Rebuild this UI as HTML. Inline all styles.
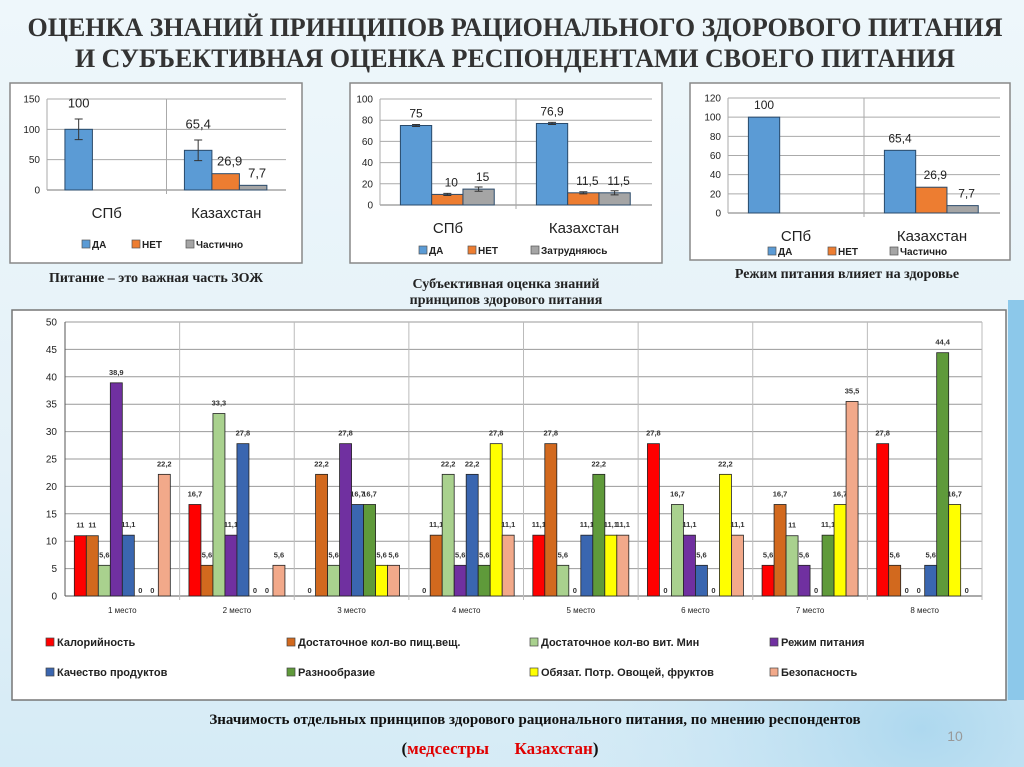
<!DOCTYPE html>
<html><head><meta charset="utf-8">
<style>
html,body{margin:0;padding:0;width:1024px;height:767px;overflow:hidden;}
body{background:linear-gradient(180deg,#eef7fb 0%,#e4f1f8 60%,#d5ebf6 100%);font-family:"Liberation Sans",sans-serif;}
svg{display:block}
</style></head>
<body>
<svg id="s" width="1024" height="767" viewBox="0 0 1024 767">
<defs>
<radialGradient id="wave" cx="0.9" cy="0.95" r="0.5">
<stop offset="0" stop-color="#a9d6ee" stop-opacity="0.9"/><stop offset="1" stop-color="#e4f1f8" stop-opacity="0"/>
</radialGradient>
</defs>
<rect x="0" y="0" width="1024" height="767" fill="url(#wave)"/>
<rect x="1008" y="300" width="16" height="400" fill="#8cc8ea"/>
<text x="515" y="36" text-anchor="middle" font-family="Liberation Serif,serif" font-weight="bold" font-size="26" fill="#333" textLength="975" lengthAdjust="spacingAndGlyphs">ОЦЕНКА ЗНАНИЙ ПРИНЦИПОВ  РАЦИОНАЛЬНОГО ЗДОРОВОГО ПИТАНИЯ</text>
<text x="515" y="67" text-anchor="middle" font-family="Liberation Serif,serif" font-weight="bold" font-size="26" fill="#333" textLength="880" lengthAdjust="spacingAndGlyphs">И СУБЪЕКТИВНАЯ ОЦЕНКА РЕСПОНДЕНТАМИ СВОЕГО  ПИТАНИЯ</text>
<g id="c1"></g>
<g id="c2"></g>
<g id="c3"></g>
<text x="156" y="282" text-anchor="middle" font-family="Liberation Serif,serif" font-weight="bold" font-size="14" fill="#222">Питание – это важная часть ЗОЖ</text>
<text x="506" y="288" text-anchor="middle" font-family="Liberation Serif,serif" font-weight="bold" font-size="14" fill="#222">Субъективная оценка знаний</text>
<text x="506" y="304" text-anchor="middle" font-family="Liberation Serif,serif" font-weight="bold" font-size="14" fill="#222">принципов здорового питания</text>
<text x="847" y="278" text-anchor="middle" font-family="Liberation Serif,serif" font-weight="bold" font-size="14" fill="#222">Режим питания влияет на здоровье</text>
<g id="main"></g>
<text x="535" y="724" text-anchor="middle" font-family="Liberation Serif,serif" font-weight="bold" font-size="15" fill="#111">Значимость отдельных принципов здорового рационального питания, по мнению респондентов</text>
<text x="500" y="754" text-anchor="middle" font-family="Liberation Serif,serif" font-weight="bold" font-size="17" fill="#e00000"><tspan fill="#111">(</tspan>медсестры&#160;&#160;&#160;&#160;&#160;&#160;Казахстан<tspan fill="#111">)</tspan></text>
<text x="955" y="741" text-anchor="middle" font-size="14" fill="#999">10</text>
</svg>
<script>
// ---- small charts data
const smallCats = ["СПб","Казахстан"];
const c1Da = [100, 65.4];
const c1Net = [null, 26.9];
const c1Part = [null, 7.7];
const c2Da = [75, 76.9];
const c2Net = [10, 11.5];
const c2Hard = [15, 11.5];
const c3Da = [100, 65.4];
const c3Net = [null, 26.9];
const c3Part = [null, 7.7];
const c1Ticks = [0, 50, 100, 150];
const c2Ticks = [0, 20, 40, 60, 80, 100];
const c3Ticks = [0, 20, 40, 60, 80, 100, 120];

// ---- main chart data
const mainCats = ["1 место","2 место","3 место","4 место","5 место","6 место","7 место","8 место"];
const mainTicks = [0,5,10,15,20,25,30,35,40,45,50];
const seriesNames = ["Калорийность","Достаточное кол-во пищ.вещ.","Достаточное кол-во вит. Мин","Режим питания","Качество продуктов","Разнообразие","Обязат. Потр. Овощей, фруктов","Безопасность"];
const sCalor = [11, 16.7, 0, 0, 11.1, 27.8, 5.6, 27.8];
const sNutr = [11, 5.6, 22.2, 11.1, 27.8, 0, 16.7, 5.6];
const sVit = [5.6, 33.3, 5.6, 22.2, 5.6, 16.7, 11, 0];
const sRegime = [38.9, 11.1, 27.8, 5.6, 0, 11.1, 5.6, 0];
const sQuality = [11.1, 27.8, 16.7, 22.2, 11.1, 5.6, 0, 5.6];
const sVariety = [0, 0, 16.7, 5.6, 22.2, 0, 11.1, 44.4];
const sVeg = [0, 0, 5.6, 27.8, 11.1, 22.2, 16.7, 16.7];
const sSafety = [22.2, 5.6, 5.6, 11.1, 11.1, 11.1, 35.5, 0];

const NS="http://www.w3.org/2000/svg";
function mk(parent, tag, attrs, text){
  const e=document.createElementNS(NS,tag);
  for(const k in attrs) e.setAttribute(k,attrs[k]);
  if(text!==undefined) e.textContent=text;
  parent.appendChild(e); return e;
}
function fmt(v){return String(v).replace('.',',');}

function smallChart(gid, box, plot, ticks, series, colors, names, labelSize, err, catY, legY, legXs){
  const g=document.getElementById(gid);
  const bg=mk(g,'rect',{x:box[0],y:box[1],width:box[2],height:box[3],fill:'#fff',stroke:'#888','stroke-width':1.5});
  
  
  const [px0,py0,px1,py1]=plot;
  const max=ticks[ticks.length-1];
  const y=v=>py1-(v/max)*(py1-py0);
  const catW=(px1-px0)/smallCats.length;
  ticks.forEach(t=>{
    const l=mk(g,'line',{x1:px0,x2:px1,y1:y(t),y2:y(t),stroke:t===0?'#777':'#aaa','stroke-width':1});
    
    
    const tx=mk(g,'text',{x:px0-7,y:y(t)+3.5,'text-anchor':'end','font-size':10,fill:'#222'},t);
    
    
  });
  mk(g,'line',{x1:px0,x2:px0,y1:py0,y2:py1,stroke:'#aaa'});
  for(let i=1;i<smallCats.length;i++) mk(g,'line',{x1:px0+catW*i,x2:px0+catW*i,y1:py0,y2:py1+4,stroke:'#aaa'});
  const bw=catW*0.23;
  smallCats.forEach((c,i)=>{
    const start=px0+catW*i+catW*0.15;
    series.forEach((s,j)=>{
      const v=s[i]; if(v===null) return;
      const bx=start+j*bw;
      const r=mk(g,'rect',{x:bx,y:y(v),width:bw,height:py1-y(v),fill:colors[j],stroke:'#2a4a6a','stroke-width':1});
      
      
      if(err&&err[j]&&err[j][i]){
        const e=err[j][i], cx=bx+bw/2;
        mk(g,'path',{d:`M${cx},${y(v+e)}V${y(v-e)}M${cx-4},${y(v+e)}h8M${cx-4},${y(v-e)}h8`,stroke:'#333',fill:'none'});
      }
      const lt=mk(g,'text',{x:bx+bw/2+(j>0?4:0),y:y(v)-(err&&err[j]&&err[j][i]>3?22:8),'text-anchor':'middle','font-size':labelSize,fill:'#222'},fmt(v));
      
      
    });
    const ct=mk(g,'text',{x:px0+catW*i+catW/2,y:catY,'text-anchor':'middle','font-size':15,fill:'#222'},c);
    
    
  });
  names.forEach((n,j)=>{
    const lr=mk(g,'rect',{x:legXs[j],y:legY-8,width:8,height:8,fill:colors[j],stroke:'#555','stroke-width':0.7});
    
    
    const lt=mk(g,'text',{x:legXs[j]+10,y:legY,'font-size':10,'font-weight':'bold',fill:'#222'},n);
    
    
  });
}
const C=['#5b9bd5','#ed7d31','#a5a5a5'];
smallChart('c1',[10,83,292,180],[47,99,286,190],c1Ticks,[c1Da,c1Net,c1Part],C,['ДА','НЕТ','Частично'],13,[[17,17],null,null],218,248,[82,132,186]);
smallChart('c2',[350,83,312,180],[380,99,652,205],c2Ticks,[c2Da,c2Net,c2Hard],C,['ДА','НЕТ','Затрудняюсь'],12,[[1,1],[1,1],[2,2]],233,254,[419,468,531]);
smallChart('c3',[690,83,320,177],[728,98,1000,213],c3Ticks,[c3Da,c3Net,c3Part],C,['ДА','НЕТ','Частично'],12,null,241,255,[768,828,890]);

// ---- main chart
(function(){
  const g=document.getElementById('main');
  const fr=mk(g,'rect',{x:12,y:310,width:994,height:390,fill:'#fff',stroke:'#777','stroke-width':1.5});
  
  
  const x0=65,x1=982,yTop=322,yBot=596,max=50;
  const y=v=>yBot-(v/max)*(yBot-yTop);
  const catW=(x1-x0)/mainCats.length, bw=12, off=(catW-bw*8)/2;
  mainTicks.forEach(t=>{
    const l=mk(g,'line',{x1:x0,x2:x1,y1:y(t),y2:y(t),stroke:t===0?'#555':'#999','stroke-width':1});
    
    
    const tx=mk(g,'text',{x:x0-8,y:y(t)+3.5,'text-anchor':'end','font-size':10,fill:'#222'},t);
    
    
  });
  mk(g,'line',{x1:x0,x2:x0,y1:yTop,y2:yBot,stroke:'#555'});
  for(let i=1;i<=mainCats.length;i++) mk(g,'line',{x1:x0+catW*i,x2:x0+catW*i,y1:yTop,y2:yBot+4,stroke:'#bbb'});
  const all=[sCalor,sNutr,sVit,sRegime,sQuality,sVariety,sVeg,sSafety];
  const cols=['#ff0000','#d2691e','#a9d18e','#7030a0','#3a66b0','#5f9a3a','#ffff00','#f2a98a'];
  mainCats.forEach((c,i)=>{
    all.forEach((s,j)=>{
      const v=s[i], bx=x0+catW*i+off+j*bw;
      if(v>0){
        const r=mk(g,'rect',{x:bx,y:y(v),width:bw,height:yBot-y(v),fill:cols[j],stroke:'#222','stroke-width':0.8});
        
        
        const lt=mk(g,'text',{x:bx+bw/2,y:y(v)-8,'text-anchor':'middle','font-size':7.5,'font-weight':'bold',fill:'#333'},fmt(v));
        
        
      } else {
        const lt=mk(g,'text',{x:bx+bw/2,y:yBot-3,'text-anchor':'middle','font-size':7.5,'font-weight':'bold',fill:'#333'},'0');
        
        
      }
    });
    const ct=mk(g,'text',{x:x0+catW*i+catW/2,y:613,'text-anchor':'middle','font-size':8,fill:'#222'},c);
    
    
  });
  const legX=[46,287,530,770], legY=[646,676];
  seriesNames.forEach((n,j)=>{
    const lx=legX[j%4], ly=legY[Math.floor(j/4)];
    const lr=mk(g,'rect',{x:lx,y:ly-8,width:8,height:8,fill:cols[j],stroke:'#444','stroke-width':0.7});
    
    
    const lt=mk(g,'text',{x:lx+11,y:ly,'font-size':11,'font-weight':'bold',fill:'#222'},n);
    
    
  });
})();
</script>
</body></html>
